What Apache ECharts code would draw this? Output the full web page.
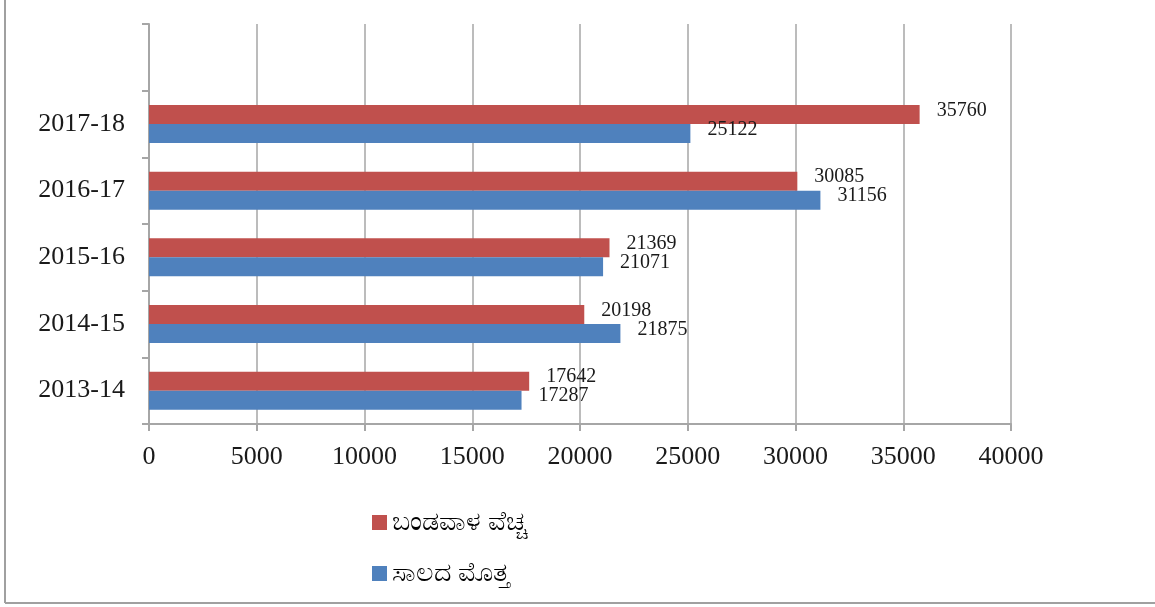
<!DOCTYPE html>
<html>
<head>
<meta charset="utf-8">
<script src="https://cdn.jsdelivr.net/npm/echarts@6/dist/echarts.min.js"></script>
<style>
  html, body { margin: 0; padding: 0; background: #fff; }
  #chart { width: 1155px; height: 607px; }
</style>
</head>
<body>
<div id="chart"></div>
<script>
// 数据
const years = ['2013-14', '2014-15', '2015-16', '2016-17', '2017-18'];
const capitalSpend = [17642, 20198, 21369, 30085, 35760]; // ಬಂಡವಾಳ ವೆಚ್ಚ (红)
const loanAmount = [17287, 21875, 21071, 31156, 25122];   // ಸಾಲದ ಮೊತ್ತ (蓝)
const xTicks = [0, 5000, 10000, 15000, 20000, 25000, 30000, 35000, 40000];
const seriesNames = ['ಬಂಡವಾಳ ವೆಚ್ಚ', 'ಸಾಲದ ಮೊತ್ತ'];

const myChart = echarts.init(document.getElementById('chart'));

// 顶部留一个空类目
const cats = years.concat(['']);
const withBlank = arr => arr.concat(['-']);

const gray = '#A6A6A6';
const serif = '"Liberation Serif", "Times New Roman", serif';

const valueLabel = {
  show: true,
  position: 'right',
  distance: 17,
  offset: [0, -4],
  fontSize: 20,
  color: '#1a1a1a',
  fontFamily: serif
};

myChart.setOption({
  backgroundColor: '#fff',
  animation: false,
  grid: {
    left: 149,
    right: 144,
    top: 24,
    bottom: 183,
    containLabel: false
  },
  legend: {
    orient: 'vertical',
    left: 372,
    top: 509,
    padding: 0,
    itemWidth: 15,
    itemHeight: 15,
    itemGap: 24,
    icon: 'rect',
    data: seriesNames,
    textStyle: {
      fontSize: 27,
      color: '#000',
      fontFamily: '"Noto Sans", sans-serif'
    }
  },
  xAxis: {
    type: 'value',
    min: xTicks[0],
    max: xTicks[xTicks.length - 1],
    interval: xTicks[1] - xTicks[0],
    axisLine: { show: true, lineStyle: { color: gray, width: 2 } },
    axisTick: { show: true, length: 7, lineStyle: { color: gray, width: 2 } },
    axisLabel: {
      margin: 20,
      fontSize: 26,
      color: '#1a1a1a',
      fontFamily: serif,
      formatter: v => String(v) // 不要千分位
    },
    splitLine: { show: true, lineStyle: { color: gray, width: 1.5 } }
  },
  yAxis: {
    type: 'category',
    data: cats,
    axisLine: { show: true, lineStyle: { color: gray, width: 2 } },
    axisTick: { show: true, length: 7, lineStyle: { color: gray, width: 2 } },
    axisLabel: {
      margin: 24,
      fontSize: 26,
      color: '#1a1a1a',
      fontFamily: serif
    },
    splitLine: { show: false }
  },
  series: [
    {
      name: seriesNames[0],
      type: 'bar',
      data: withBlank(capitalSpend),
      barGap: '0%',
      barCategoryGap: '43%',
      itemStyle: { color: '#C0504D' },
      label: valueLabel
    },
    {
      name: seriesNames[1],
      type: 'bar',
      data: withBlank(loanAmount),
      barGap: '0%',
      barCategoryGap: '43%',
      itemStyle: { color: '#4F81BD' },
      label: valueLabel
    }
  ],
  graphic: [
    // 外框（左、下）
    {
      type: 'line',
      shape: { x1: 5, y1: 0, x2: 5, y2: 603 },
      style: { stroke: '#A0A0A0', lineWidth: 2 }
    },
    {
      type: 'line',
      shape: { x1: 5, y1: 603, x2: 1155, y2: 603 },
      style: { stroke: '#A0A0A0', lineWidth: 2 }
    }
  ]
});
</script>
</body>
</html>
